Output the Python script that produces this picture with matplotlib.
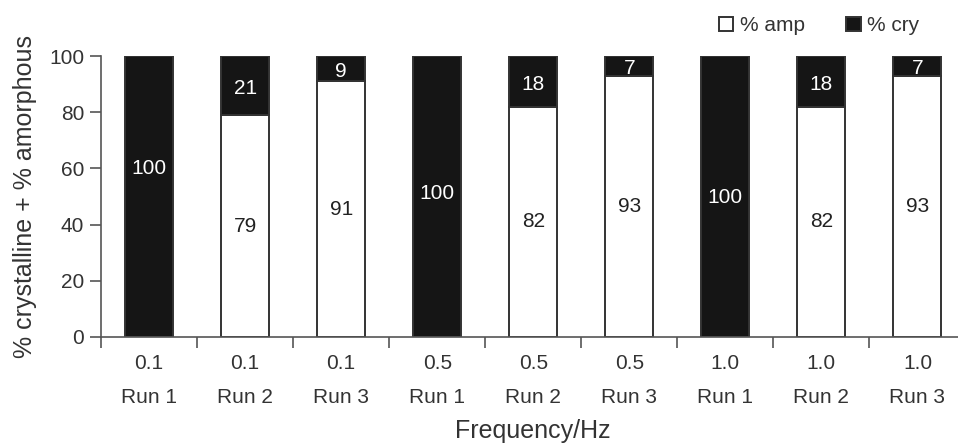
import numpy as np
import matplotlib
matplotlib.use('Agg')
import matplotlib.pyplot as plt

plt.rcParams['font.family'] = ['Liberation Sans', 'DejaVu Sans']

freqs = ['0.1', '0.1', '0.1', '0.5', '0.5', '0.5', '1.0', '1.0', '1.0']
runs = ['Run 1', 'Run 2', 'Run 3', 'Run 1', 'Run 2', 'Run 3', 'Run 1', 'Run 2', 'Run 3']
amp = [0, 79, 91, 0, 82, 93, 0, 82, 93]
cry = [100, 21, 9, 100, 18, 7, 100, 18, 7]

# where the "100" labels sit in the all-crystalline bars (as printed)
full_label_y = {0: 60, 3: 51, 6: 49.5}

fig = plt.figure(figsize=(9.58, 4.43), dpi=100)
ax = fig.add_axes([101 / 958, 1 - 337 / 443, 864.5 / 958, 281 / 443])

x = np.arange(len(amp))
edge = '#333333'
ax.bar(x, amp, width=0.5, color='white', edgecolor=edge, linewidth=1.4, label='% amp')
ax.bar(x, cry, width=0.5, bottom=amp, color='#151515', edgecolor=edge, linewidth=1.4, label='% cry')

for i in range(len(amp)):
    if amp[i] > 0:
        ax.text(x[i], amp[i] / 2, str(amp[i]), ha='center', va='center', fontsize=15, color='#222222')
    if amp[i] == 0:
        ax.text(x[i], full_label_y.get(i, 50), str(cry[i]), ha='center', va='center', fontsize=15, color='white')
    else:
        ax.text(x[i], amp[i] + cry[i] / 2 - 1, str(cry[i]), ha='center', va='center', fontsize=15, color='white')

ax.set_xlim(-0.5, len(amp) - 0.5)
ax.set_ylim(0, 100)
ax.set_yticks([0, 20, 40, 60, 80, 100])
ax.set_xticks(x)
ax.set_xticklabels([f + '\n' + r for f, r in zip(freqs, runs)], linespacing=2.0)
ax.set_xticks(np.arange(-0.5, len(amp) - 0.4, 1), minor=True)

for s in ['top', 'right']:
    ax.spines[s].set_visible(False)
for s in ['left', 'bottom']:
    ax.spines[s].set_color('#555555')
    ax.spines[s].set_linewidth(1.2)

ax.tick_params(axis='x', which='major', length=0, pad=12, labelsize=15, colors='#333333')
ax.tick_params(axis='x', which='minor', length=8, width=1.2, direction='out', color='#555555')
ax.tick_params(axis='y', length=8, width=1.2, pad=4, labelsize=15, colors='#333333', color='#555555')
ax.spines['left'].set_bounds(0, 100)

ax.set_ylabel('% crystalline + % amorphous', fontsize=18, color='#333333', labelpad=9)
ax.set_xlabel('Frequency/Hz', fontsize=18, color='#333333', labelpad=9)

fig.legend(loc='center', bbox_to_anchor=(0.855, 0.942), ncol=2, frameon=False, fontsize=15,
           handlelength=0.7, handleheight=0.7, handletextpad=0.3, columnspacing=2.0,
           labelcolor='#333333')

fig.savefig('out.png', dpi=100)
